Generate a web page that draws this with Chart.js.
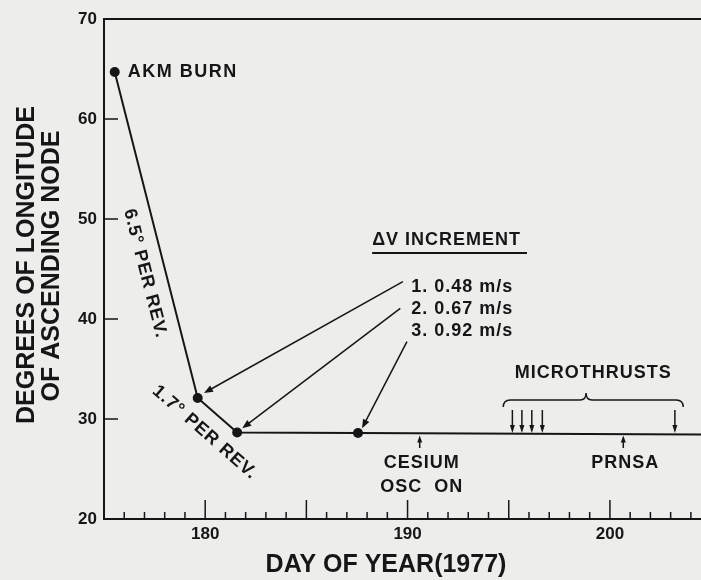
<!DOCTYPE html>
<html>
<head>
<meta charset="utf-8">
<script src="https://cdn.jsdelivr.net/npm/chart.js@4.4.1/dist/chart.umd.min.js"></script>
<style>
  html, body { margin: 0; padding: 0; background: #ededeb; }
  #contenedor { width: 701px; height: 580px; }
</style>
</head>
<body>
<div id="contenedor"><canvas id="grafico" width="701" height="580"></canvas></div>
<script>
// Datos (día del año 1977 / grados de longitud del nodo ascendente)
const dias = [175.53, 179.63, 181.58, 187.55, 204.5];
const longitud = [64.7, 32.1, 28.65, 28.6, 28.45];

// Etiquetas de los ejes
const ticksX = [180, 190, 200];
const ticksY = [20, 30, 40, 50, 60, 70];

// Anotaciones
const incrementos = ['1. 0.48 m/s', '2. 0.67 m/s', '3. 0.92 m/s'];
const origenFlechas = [[189.77, 43.73], [189.64, 41.07], [189.97, 37.73]]; // inicio de cada flecha ΔV
const destinoFlechas = [[179.94, 32.6], [181.83, 29.07], [187.75, 29.07]];
const microempujes = [195.18, 195.65, 196.14, 196.66, 203.21];
const llaveMicro = [194.73, 198.82, 203.62];
const eventos = [190.6, 200.66];
const etiquetasEventos = [['CESIUM', 'OSC  ON'], ['PRNSA']];

const tinta = '#161616';
const fuente = "'Liberation Sans', Arial, Helvetica, sans-serif";

// Dibuja una línea con punta de flecha rellena en (x2, y2)
function flecha(ctx, x1, y1, x2, y2, largo, ancho) {
    const ang = Math.atan2(y2 - y1, x2 - x1);
    ctx.beginPath();
    ctx.moveTo(x1, y1);
    ctx.lineTo(x2 - Math.cos(ang) * largo * 0.8, y2 - Math.sin(ang) * largo * 0.8);
    ctx.stroke();
    ctx.beginPath();
    ctx.moveTo(x2, y2);
    ctx.lineTo(x2 - Math.cos(ang) * largo - Math.sin(ang) * ancho, y2 - Math.sin(ang) * largo + Math.cos(ang) * ancho);
    ctx.lineTo(x2 - Math.cos(ang) * largo + Math.sin(ang) * ancho, y2 - Math.sin(ang) * largo - Math.cos(ang) * ancho);
    ctx.closePath();
    ctx.fill();
}

// Texto en negrita con algo de espaciado, como la rotulación original
function texto(ctx, t, x, y, tam, alinear, espaciado) {
    ctx.font = 'bold ' + tam + 'px ' + fuente;
    ctx.letterSpacing = (espaciado === undefined ? 1.5 : espaciado) + 'px';
    ctx.textAlign = alinear || 'left';
    ctx.textBaseline = 'middle';
    ctx.fillText(t, x, y);
    ctx.letterSpacing = '0px';
}

// Fondo tipo papel escaneado
const fondo = {
    id: 'fondo',
    beforeDraw(chart) {
        const ctx = chart.ctx;
        ctx.save();
        ctx.fillStyle = '#ededeb';
        ctx.fillRect(0, 0, chart.width, chart.height);
        ctx.restore();
    }
};

// Marco superior, marcas interiores de los ejes, títulos y anotaciones
const anotaciones = {
    id: 'anotaciones',
    afterDraw(chart) {
        const ctx = chart.ctx;
        const xs = chart.scales.x, ys = chart.scales.y;
        const area = chart.chartArea;
        const px = v => xs.getPixelForValue(v);
        const py = v => ys.getPixelForValue(v);
        ctx.save();
        ctx.strokeStyle = tinta;
        ctx.fillStyle = tinta;

        // línea superior del marco
        ctx.lineWidth = 2;
        ctx.beginPath();
        ctx.moveTo(area.left, area.top);
        ctx.lineTo(area.right, area.top);
        ctx.stroke();

        // marcas del eje Y hacia dentro
        ctx.lineWidth = 1.5;
        ticksY.slice(1, -1).forEach(v => {
            ctx.beginPath();
            ctx.moveTo(area.left, py(v));
            ctx.lineTo(area.left + 14, py(v));
            ctx.stroke();
        });

        // marcas del eje X: cada día, más largas cada 5 días
        for (let d = Math.ceil(xs.min + 0.5); d <= xs.max; d++) {
            const largo = d % 5 === 0 ? 19 : 7;
            ctx.beginPath();
            ctx.moveTo(px(d), area.bottom);
            ctx.lineTo(px(d), area.bottom - largo);
            ctx.stroke();
        }

        // títulos de los ejes
        texto(ctx, 'DAY OF YEAR(1977)', 386, 565, 25, 'center', 0);
        ctx.save();
        ctx.translate(27, 265);
        ctx.rotate(-Math.PI / 2);
        texto(ctx, 'DEGREES OF LONGITUDE', 0, 0, 25, 'center', 0);
        ctx.restore();
        ctx.save();
        ctx.translate(52, 266);
        ctx.rotate(-Math.PI / 2);
        texto(ctx, 'OF ASCENDING NODE', 0, 0, 25, 'center', 0);
        ctx.restore();

        // AKM BURN junto al primer punto
        texto(ctx, 'AKM BURN', px(dias[0]) + 13, py(longitud[0]), 18);

        // rótulos inclinados a lo largo de los tramos
        const rotulos = [['6.5° PER REV.', 177.03, 44.55, 0], ['1.7° PER REV.', 179.98, 28.65, 1]];
        rotulos.forEach(([t, d, v, i]) => {
            const ang = Math.atan2(py(longitud[i + 1]) - py(longitud[i]), px(dias[i + 1]) - px(dias[i]));
            ctx.save();
            ctx.translate(px(d), py(v));
            ctx.rotate(ang);
            texto(ctx, t, 0, 0, 18, 'center', 1);
            ctx.restore();
        });

        // bloque ΔV INCREMENT
        texto(ctx, 'ΔV INCREMENT', px(188.25), py(47.9), 18, 'left', 1);
        ctx.lineWidth = 2;
        ctx.beginPath();
        ctx.moveTo(px(188.25), py(46.6));
        ctx.lineTo(px(195.9), py(46.6));
        ctx.stroke();
        incrementos.forEach((t, i) => texto(ctx, t, px(190.18), py(43.2 - i * 2.2), 18, 'left', 1));

        ctx.lineWidth = 1.5;
        origenFlechas.forEach((o, i) => {
            const f = destinoFlechas[i];
            flecha(ctx, px(o[0]), py(o[1]), px(f[0]), py(f[1]), 9, 3.5);
        });

        // microempujes: flechas hacia abajo y llave
        ctx.lineWidth = 1.5;
        microempujes.forEach(d => flecha(ctx, px(d), py(30.9), px(d), py(28.6), 8, 2.5));
        const [la, lm, lb] = llaveMicro.map(px);
        const yl = py(31.9);
        ctx.beginPath();
        ctx.moveTo(la, yl + 7);
        ctx.quadraticCurveTo(la, yl, la + 7, yl);
        ctx.lineTo(lm - 6, yl);
        ctx.quadraticCurveTo(lm, yl, lm, yl - 7);
        ctx.quadraticCurveTo(lm, yl, lm + 6, yl);
        ctx.lineTo(lb - 7, yl);
        ctx.quadraticCurveTo(lb, yl, lb, yl + 7);
        ctx.stroke();
        texto(ctx, 'MICROTHRUSTS', px(199.17), py(34.6), 18, 'center', 1);

        // eventos: flechas hacia arriba con su rótulo
        eventos.forEach((d, i) => {
            flecha(ctx, px(d), py(27.1), px(d), py(28.35), 7, 2.5);
            etiquetasEventos[i].forEach((t, j) => texto(ctx, t, px(d) + 2, py(25.6 - j * 2.4), 18, 'center', 1));
        });

        ctx.restore();
    }
};

const chart = new Chart(document.getElementById('grafico'), {
    type: 'scatter',
    data: {
        datasets: [{
            data: dias.map((d, i) => ({ x: d, y: longitud[i] })),
            showLine: true,
            borderColor: tinta,
            borderWidth: 2,
            pointRadius: c => (c.dataIndex < 4 ? 5 : 0),
            pointBackgroundColor: tinta,
            pointBorderWidth: 0
        }]
    },
    options: {
        responsive: false,
        animation: false,
        layout: { autoPadding: false, padding: { top: 19, right: 0, bottom: 0, left: 0 } },
        plugins: { legend: { display: false }, tooltip: { enabled: false } },
        scales: {
            x: {
                type: 'linear',
                min: 175,
                max: 204.5,
                afterBuildTicks: s => { s.ticks = ticksX.map(v => ({ value: v })); },
                afterFit: s => { s.height = 61; s.paddingRight = 0; s.paddingLeft = 0; },
                grid: { display: false, drawTicks: false },
                border: { color: tinta, width: 2 },
                ticks: { color: tinta, padding: 5, maxRotation: 0, font: { family: fuente, size: 17, weight: 'bold' } }
            },
            y: {
                min: 20,
                max: 70,
                afterBuildTicks: s => { s.ticks = ticksY.map(v => ({ value: v })); },
                afterFit: s => { s.width = 104; },
                grid: { display: false, drawTicks: false },
                border: { color: tinta, width: 2 },
                ticks: { color: tinta, padding: 7, font: { family: fuente, size: 17, weight: 'bold' } }
            }
        }
    },
    plugins: [fondo, anotaciones]
});
</script>
</body>
</html>
